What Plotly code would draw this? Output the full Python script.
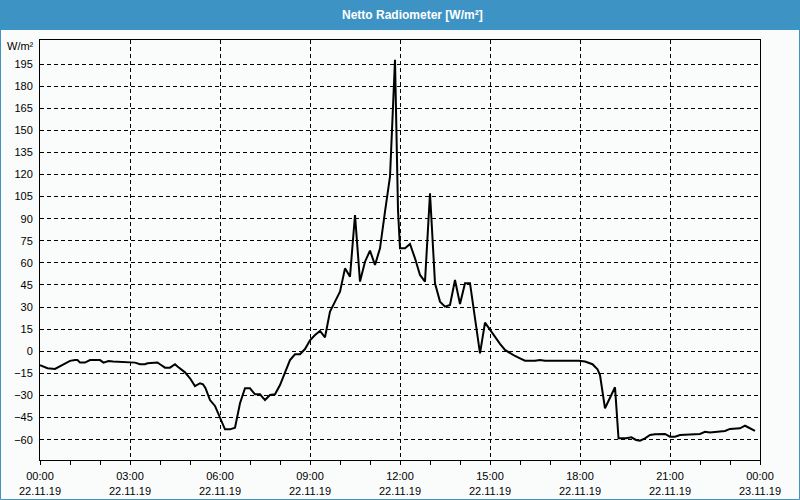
import plotly.graph_objects as go

# ---- data ----
times = ["00:00","00:15","00:30","00:45","01:00","01:10","01:15","01:20","01:30","01:40",
         "02:00","02:07","02:17","02:26","02:50","03:10","03:20","03:30","03:35","03:55",
         "04:00","04:10","04:20","04:30","04:35","04:50","05:00","05:10","05:20","05:26",
         "05:31","05:40","05:50","06:00","06:10","06:20","06:30","06:40","06:50","07:00",
         "07:10","07:20","07:30","07:40","07:50","08:00","08:10","08:20","08:30","08:40",
         "08:50","09:00","09:10","09:20","09:30","09:40","09:50","10:00","10:10","10:20",
         "10:30","10:40","10:50","11:00","11:10","11:20","11:30","11:40","11:50","11:56",
         "12:00","12:10","12:20","12:30","12:40","12:50","13:00","13:10","13:20","13:30",
         "13:40","13:50","14:00","14:10","14:20","14:30","14:40","14:50","15:00","15:10",
         "15:20","15:30","15:40","15:50","16:00","16:10","16:30","16:40","16:50","17:00",
         "17:58","18:10","18:25","18:35","18:40","18:50","19:10","19:12","19:17","19:32",
         "19:43","19:52","20:00","20:10","20:20","20:30","20:50","21:00","21:10","21:20",
         "22:00","22:10","22:20","22:50","23:00","23:20","23:30","23:35","23:50"]
values = [-9.5,-11.5,-12,-9,-6.5,-6,-6,-7.7,-7.7,-6,
          -6,-7.7,-6.6,-7,-7.5,-7.7,-8.8,-8.8,-8.2,-7.7,
          -8.8,-11.1,-11.1,-8.8,-10.4,-14.3,-18.3,-23.6,-21.7,-22.4,
          -25.1,-33.1,-37.1,-45.5,-53,-53,-51.9,-35.3,-25.1,-25.1,
          -29.2,-29.2,-33.1,-29.7,-29.2,-22.9,-14.9,-6,-2,-2,
          1.5,7.5,11,13.8,9.5,26.9,33.7,40.5,56.3,50.6,
          92.5,47.3,60.8,68.3,58.6,69.9,94.8,118.5,197.8,96,
          69.9,69.9,72.8,63.1,51.8,47.3,107.3,46.2,33.7,30.3,
          31.4,48.4,32.1,46.2,46.2,23.5,-1.4,19.4,14.5,9.5,
          5,0.9,-1.4,-3.2,-4.8,-6.4,-6.4,-5.9,-6.4,-6.4,
          -6.4,-7,-8.8,-12.2,-16.1,-38.7,-24.4,-34.2,-59.1,-59.1,
          -58.4,-60.2,-60.7,-59.1,-56.8,-56.4,-56.1,-58,-58,-56.8,
          -56.1,-54.6,-55.2,-54.1,-52.7,-52.3,-50.5,-51.4,-54.1]

tick_vals = ["2019-11-22 00:00","2019-11-22 03:00","2019-11-22 06:00","2019-11-22 09:00",
             "2019-11-22 12:00","2019-11-22 15:00","2019-11-22 18:00","2019-11-22 21:00",
             "2019-11-23 00:00"]
tick_text = ["00:00<br>22.11.19","03:00<br>22.11.19","06:00<br>22.11.19","09:00<br>22.11.19",
             "12:00<br>22.11.19","15:00<br>22.11.19","18:00<br>22.11.19","21:00<br>22.11.19",
             "00:00<br>23.11.19"]
y_ticks = list(range(-60, 196, 15))

title = "Netto Radiometer [W/m²]"
unit = "W/m²"

x = ["2019-11-22 " + t for t in times]

W, H = 800, 500
ml, mr, mt, mb = 40, 40, 40, 40
pw, ph = W - ml - mr, H - mt - mb

def px(xp):
    return (xp - ml) / pw

def py(yp):
    return 1 - (yp - mt) / ph

bg = "#fafcfc"
blue = "#3d93c4"

fig = go.Figure(go.Scatter(x=x, y=values, mode="lines",
                           line=dict(color="black", width=2), hoverinfo="skip"))

font = dict(family="Liberation Sans, Arial, sans-serif", size=11, color="black")

fig.update_layout(
    width=W, height=H,
    margin=dict(l=ml, r=mr, t=mt, b=mb, autoexpand=False),
    paper_bgcolor=bg, plot_bgcolor=bg,
    showlegend=False,
    font=font,
    xaxis=dict(type="date", range=["2019-11-22 00:00", "2019-11-23 00:00"],
               tickmode="array", tickvals=tick_vals, ticktext=tick_text,
               showgrid=True, gridcolor="black", gridwidth=1, griddash="4px,3px",
               showline=True, linecolor="black", linewidth=1, mirror=True,
               ticks="outside", ticklen=4, tickcolor="black", tickwidth=1,
               ticklabelstandoff=2, automargin=False,
               minor=dict(dtick=3600000, ticks="outside", ticklen=4, tickcolor="black",
                          showgrid=False),
               zeroline=False, tickfont=font, fixedrange=True),
    yaxis=dict(range=[-73.8, 211.3], tickmode="array", tickvals=y_ticks,
               showgrid=True, gridcolor="black", gridwidth=1, griddash="4px,3px",
               showline=True, linecolor="black", linewidth=1, mirror=True,
               ticks="", ticklabelstandoff=4, automargin=False,
               zeroline=False, tickfont=font, fixedrange=True),
    shapes=[
        dict(type="rect", xref="paper", yref="paper",
             x0=px(0), x1=px(W), y0=py(30), y1=py(0),
             fillcolor=blue, line=dict(width=0), layer="below"),
        dict(type="rect", xref="paper", yref="paper",
             x0=px(0.5), x1=px(W - 0.5), y0=py(H - 0.5), y1=py(0.5),
             fillcolor="rgba(0,0,0,0)", line=dict(color=blue, width=1)),
    ],
    annotations=[
        dict(text="<b>" + title + "</b>", xref="paper", yref="paper",
             x=px(412), y=py(15), xanchor="center", yanchor="middle", showarrow=False,
             font=dict(family="Liberation Sans, Arial, sans-serif", size=12, color="white")),
        dict(text=unit, xref="paper", yref="paper",
             x=px(36), y=py(46), xanchor="right", yanchor="middle", showarrow=False,
             font=font),
    ],
)

fig.write_html("out.html")
